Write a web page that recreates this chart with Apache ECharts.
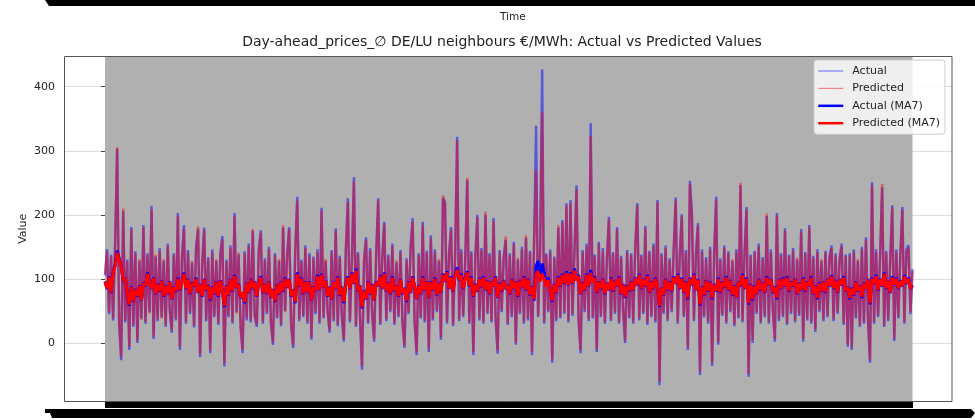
<!DOCTYPE html>
<html>
<head>
<meta charset="utf-8">
<script src="https://cdn.jsdelivr.net/npm/echarts@6/dist/echarts.min.js"></script>
<style>
  html, body { margin: 0; padding: 0; background: #fff; }
  #chart { width: 975px; height: 420px; }
</style>
</head>
<body>
<div id="chart"></div>
<script>
// raw daily values (one value per ~2px)
const actual = [
  105,146,45,138,35,155,303,28,-27,206,32,130,-11,181,25,143,0,128,38,184,
  30,140,48,214,6,135,34,148,40,128,25,155,52,16,140,35,203,-11,130,184,
  30,145,45,125,24,150,178,-22,122,180,34,134,-16,146,40,128,28,140,167,-37,
  130,40,152,30,203,48,138,25,-16,143,35,155,32,175,42,25,146,176,30,132,
  45,150,30,-3,140,38,128,26,180,50,138,181,25,-8,144,228,34,130,40,152,
  30,140,5,135,45,146,30,211,38,128,50,16,145,34,179,26,136,42,2,146,
  226,32,130,259,25,142,38,-42,128,165,30,148,45,2,140,226,28,134,189,34,
  138,48,155,28,126,40,145,30,-8,132,45,150,195,30,-19,140,38,189,32,144,
  -14,168,35,146,48,128,5,226,220,30,140,181,26,136,322,34,146,40,130,254,
  30,143,-19,138,200,35,148,30,200,45,140,32,195,38,-17,145,48,134,161,28,
  140,40,158,-3,130,45,150,30,164,35,144,-19,155,339,40,146,427,30,140,48,
  146,-31,135,34,180,38,192,45,218,32,223,42,146,246,35,-16,145,48,155,34,
  343,38,138,-14,158,40,148,30,130,197,34,142,45,181,30,136,50,0,145,38,
  140,30,150,218,35,138,45,183,28,144,40,155,32,223,-66,140,45,152,34,132,
  48,146,227,30,138,201,40,145,-11,253,203,34,140,187,-50,146,40,134,30,150,
  -36,140,228,-3,132,42,152,30,143,48,128,26,146,38,246,32,140,212,-53,138,
  0,144,45,155,30,134,40,198,30,146,50,2,203,34,140,40,179,28,138,45,
  148,32,130,42,178,2,142,35,184,30,136,17,146,48,128,34,144,40,134,152,
  34,140,45,132,155,28,138,-6,140,-11,146,38,128,25,150,30,165,35,-31,251,
  30,146,40,138,243,25,144,34,132,215,3,146,38,140,212,30,145,153,45,115
];

const predicted = [
  108,142,48,135,38,151,306,31,-22,210,35,127,-6,178,28,140,4,131,36,180,
  33,137,46,208,10,138,37,144,38,131,28,151,50,20,137,38,198,-6,133,179,
  33,141,48,128,27,147,182,-18,125,176,37,131,-12,142,43,131,31,137,162,-32,
  127,43,148,33,198,46,141,28,-11,140,38,151,35,178,40,29,142,172,33,129,
  48,146,33,1,137,41,131,29,184,48,135,177,28,-4,141,222,37,127,43,148,
  33,137,9,132,48,142,33,206,41,131,47,20,141,37,175,29,133,45,6,142,
  220,35,127,252,28,139,41,-36,131,161,33,145,48,6,137,222,31,131,185,37,
  135,51,151,31,129,43,141,33,-4,129,48,147,190,33,-14,137,41,184,35,141,
  -9,163,38,142,51,131,9,230,216,33,137,177,29,133,316,37,142,43,127,258,
  33,140,-14,135,196,38,145,33,205,48,137,35,190,41,-12,141,51,131,166,31,
  137,43,154,1,133,48,146,33,168,38,141,-14,151,270,43,142,360,33,137,51,
  142,-26,132,37,184,41,188,48,214,35,219,45,142,240,38,-11,141,51,151,37,
  323,41,135,-10,154,43,144,33,133,193,37,139,48,177,33,133,53,4,141,41,
  137,33,146,214,38,135,48,179,31,141,43,151,35,219,-60,137,48,148,37,129,
  51,142,222,33,135,197,43,141,-7,248,199,37,137,183,-45,142,43,131,33,146,
  -31,137,224,1,129,45,148,33,140,51,131,29,142,41,250,35,137,208,-48,135,
  4,141,48,151,33,131,43,202,33,142,53,6,199,37,137,43,175,31,135,48,
  144,35,133,45,174,6,139,38,180,33,133,21,142,51,131,37,141,43,131,148,
  37,137,48,129,151,31,135,-2,137,-7,142,41,131,28,146,33,161,38,-26,246,
  33,142,43,135,248,28,141,37,129,211,7,142,41,137,208,33,141,149,48,112
];

// 7-day moving averages as drawn (thick lines)
const actualMA7 = [
  96,84,104,78,110,122,144,132,120,96,102,76,58,88,64,84,72,90,66,94,
  88,110,96,84,102,76,92,80,98,72,90,76,96,68,88,80,102,82,96,110,
  84,100,76,94,88,102,78,92,72,100,82,90,66,88,76,96,72,98,80,56,
  90,74,100,80,106,86,92,70,78,62,94,78,100,84,96,72,94,104,78,92,
  76,96,70,84,64,92,76,96,80,102,86,100,72,84,62,110,88,102,76,96,
  78,96,66,88,80,106,82,108,86,98,72,88,68,96,84,104,74,88,62,92,
  104,84,110,92,116,80,90,54,82,68,96,76,92,66,96,88,106,84,110,80,
  94,76,104,80,90,72,100,76,86,64,96,78,104,88,68,90,76,104,82,96,
  70,96,82,102,74,94,78,108,96,112,84,104,80,106,118,98,108,84,102,112,
  88,104,72,92,80,102,86,104,82,98,76,96,88,104,70,94,80,98,84,90,
  76,100,84,96,72,98,86,104,82,100,74,88,66,120,128,104,124,110,90,102,
  84,64,92,78,104,88,108,92,112,90,110,92,116,98,106,76,94,82,108,88,
  114,96,104,78,96,84,100,76,94,82,102,80,98,88,104,76,92,70,90,80,
  96,82,102,90,108,84,100,88,106,78,96,84,102,88,56,86,74,100,82,96,
  80,104,92,108,84,102,78,96,68,102,90,108,82,100,58,88,74,98,80,96,
  68,92,80,102,78,96,86,104,82,98,74,90,70,96,88,108,84,102,60,92,
  66,90,76,100,82,94,78,104,90,100,78,88,68,100,84,102,88,104,80,96,
  88,100,76,94,82,102,80,96,88,104,76,90,68,94,80,96,78,100,88,106,
  84,98,78,100,90,104,80,88,68,86,74,96,80,90,70,94,84,100,60,102,
  92,106,82,100,88,110,84,98,78,104,90,102,84,98,88,106,92,102,84,90
];

const predictedMA7 = [
  95,85,103,79,109,120,141,130,119,97,101,77,60,87,65,83,73,89,67,93,
  89,108,95,85,101,77,91,81,97,73,89,77,95,69,87,81,100,83,95,108,
  85,99,77,93,89,100,79,91,73,99,83,89,68,87,77,95,73,97,81,58,
  89,75,99,81,104,87,91,71,79,64,93,79,99,85,95,73,93,102,79,91,
  77,95,71,83,65,91,77,95,81,100,87,99,73,83,64,107,89,100,77,95,
  79,95,67,87,81,104,83,106,87,97,73,87,69,95,85,102,75,87,64,91,
  102,85,108,93,113,81,89,56,81,69,95,77,91,67,95,89,104,85,108,81,
  93,77,102,81,89,73,99,77,85,66,95,79,102,89,69,89,77,102,83,95,
  71,95,83,100,75,93,79,106,97,110,85,102,81,104,114,99,106,85,100,110,
  89,102,73,91,81,100,87,102,83,97,77,95,89,102,71,93,81,97,85,89,
  77,99,85,95,73,97,87,102,83,99,75,87,68,108,112,96,108,100,88,98,
  85,66,91,79,102,89,106,93,109,91,108,93,113,97,104,77,93,83,106,89,
  109,95,102,79,95,85,99,77,93,83,100,81,97,89,102,77,91,72,89,81,
  95,83,100,91,106,85,99,89,104,79,95,85,100,89,58,85,75,99,83,95,
  81,102,93,106,85,100,79,95,70,100,91,106,83,99,60,87,75,97,81,95,
  70,91,81,100,79,95,87,102,83,97,75,89,71,95,89,106,85,100,62,91,
  68,89,77,99,83,93,79,102,91,99,79,87,70,99,85,100,89,102,81,95,
  89,99,77,93,83,100,81,95,89,102,77,89,70,93,81,95,79,99,89,104,
  85,97,79,99,91,102,81,87,70,85,75,95,81,89,72,93,85,99,62,100,
  93,104,83,99,89,108,85,97,79,102,91,100,85,97,89,104,93,100,85,89
];

const yTicks = [0, 100, 200, 300, 400];

const chart = echarts.init(document.getElementById('chart'), null, { renderer: 'canvas' });

const last = actual.length - 1;
const pairs = arr => arr.map((v, i) => [i, v]);
const font = '"DejaVu Sans", sans-serif';

const option = {
  animation: false,
  backgroundColor: '#fff',
  textStyle: { fontFamily: font },
  title: {
    text: 'Day-ahead_prices_\u2205 DE/LU neighbours \u20ac/MWh: Actual vs Predicted Values',
    left: 502,
    top: 35,
    textAlign: 'center',
    padding: 0,
    textStyle: { fontFamily: font, fontSize: 14, fontWeight: 'normal', color: '#222' }
  },
  grid: {
    left: 64,
    right: 23,
    top: 56,
    bottom: 18.5,
    containLabel: false
  },
  legend: {
    orient: 'vertical',
    left: 814,
    top: 60,
    padding: [4, 5, 4, 3],
    itemWidth: 25,
    itemHeight: 14,
    itemGap: 3.4,
    backgroundColor: 'rgba(255,255,255,0.8)',
    borderColor: '#cccccc',
    borderWidth: 1,
    borderRadius: 3,
    itemStyle: { opacity: 0 },
    textStyle: { fontFamily: font, fontSize: 11, lineHeight: 14, color: '#222', padding: [0, 0, 0, 4] },
    data: [
      { name: 'Actual', lineStyle: { width: 1.2 } },
      { name: 'Predicted', lineStyle: { width: 1.2 } },
      { name: 'Actual (MA7)', lineStyle: { width: 2.5 } },
      { name: 'Predicted (MA7)', lineStyle: { width: 2.5 } }
    ],
    z: 20
  },
  xAxis: {
    type: 'value',
    min: -20.26,
    max: last + 19.52,
    axisLine: { show: false },
    axisTick: { show: false },
    axisLabel: { show: false },
    splitLine: { show: false }
  },
  yAxis: {
    type: 'value',
    min: -91.5,
    max: 448,
    splitNumber: 5,
    name: 'Value',
    nameLocation: 'middle',
    nameGap: 35,
    nameMoveOverlap: false,
    nameTextStyle: { fontFamily: font, fontSize: 11, color: '#222' },
    axisLine: { show: false },
    axisTick: { show: true, length: 4, lineStyle: { color: '#444' }, customValues: yTicks },
    axisLabel: {
      margin: 9,
      fontFamily: font,
      fontSize: 11,
      color: '#222',
      customValues: yTicks
    },
    splitLine: { show: true, lineStyle: { color: '#dcdcdc', width: 1 } }
  },
  graphic: [
    {
      type: 'text',
      left: 500,
      top: 12,
      style: { text: 'Time', font: '10.5px "DejaVu Sans", sans-serif', fill: '#222' }
    },
    {
      // axes frame drawn on top of the shaded span
      type: 'rect',
      z: 50,
      silent: true,
      shape: { x: 64.5, y: 56.5, width: 887.5, height: 345 },
      style: { fill: 'none', stroke: '#555', lineWidth: 1 }
    },
    {
      // dense x tick marks
      type: 'rect',
      z: 50,
      silent: true,
      shape: { x: 105, y: 402, width: 808, height: 6 },
      style: { fill: '#000' }
    },
    {
      // overlapping tick labels of the panel above
      type: 'polygon',
      silent: true,
      shape: { points: [[45, 0], [975, 0], [975, 6], [49, 6]] },
      style: { fill: '#000' }
    },
    {
      // overlapping rotated x tick labels
      type: 'polygon',
      silent: true,
      shape: { points: [[45, 409], [971, 409], [975, 413], [971, 418], [52, 418], [50, 413], [45, 413]] },
      style: { fill: '#000' }
    }
  ],
  series: [
    {
      name: 'span',
      type: 'line',
      data: [],
      z: 1,
      silent: true,
      markArea: {
        silent: true,
        itemStyle: { color: '#b0b0b0' },
        data: [[{ xAxis: 0 }, { xAxis: last }]]
      }
    },
    {
      name: 'Actual',
      type: 'line',
      data: pairs(actual),
      symbol: 'none',
      z: 3,
      silent: true,
      lineStyle: { color: 'rgba(0,0,255,0.5)', width: 2.4 },
      itemStyle: { color: 'rgba(0,0,255,0.5)' }
    },
    {
      name: 'Predicted',
      type: 'line',
      data: pairs(predicted),
      symbol: 'none',
      z: 4,
      silent: true,
      lineStyle: { color: 'rgba(255,0,0,0.45)', width: 2.4 },
      itemStyle: { color: 'rgba(255,0,0,0.45)' }
    },
    {
      name: 'Actual (MA7)',
      type: 'line',
      data: pairs(actualMA7),
      symbol: 'none',
      z: 5,
      silent: true,
      lineStyle: { color: '#0000ff', width: 3 },
      itemStyle: { color: '#0000ff' }
    },
    {
      name: 'Predicted (MA7)',
      type: 'line',
      data: pairs(predictedMA7),
      symbol: 'none',
      z: 6,
      silent: true,
      lineStyle: { color: '#ff0000', width: 3 },
      itemStyle: { color: '#ff0000' }
    }
  ]
};

chart.setOption(option);
</script>
</body>
</html>
